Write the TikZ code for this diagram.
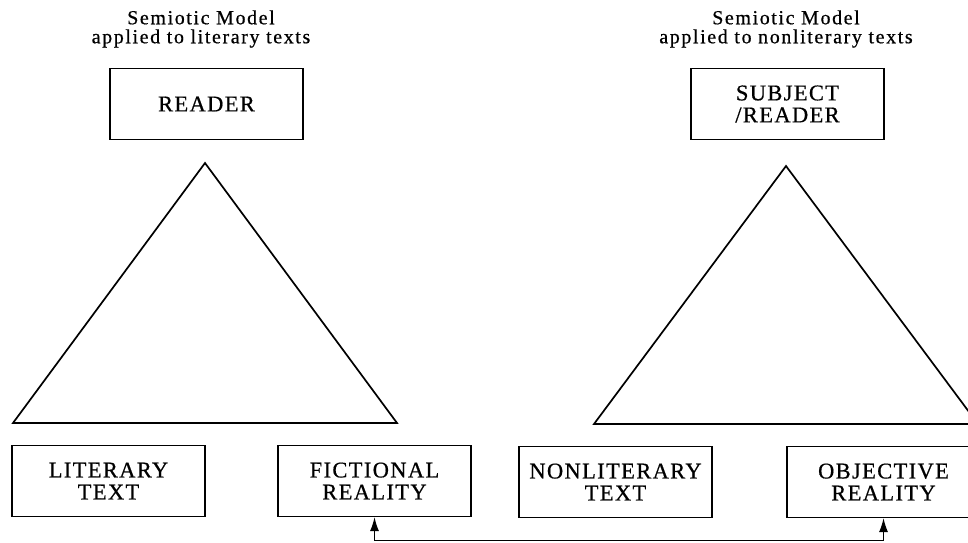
\documentclass[tikz,border=0pt]{standalone}
\usepackage{fontspec}
\setmainfont{Liberation Serif}
\newfontfamily\titlefont[LetterSpace=8,FakeBold=0.6]{Liberation Serif}
\newfontfamily\boxfont[LetterSpace=6,FakeBold=0.6]{Liberation Serif}
\usetikzlibrary{arrows.meta}

\begin{document}
\begin{tikzpicture}[x=1pt,y=-1pt]
            \tikzstyle{box}=[draw, line width=1.2pt, inner sep=0pt, minimum width=193pt, minimum height=71pt, align=center, font=\boxfont\fontsize{22.5}{22}\selectfont]
            \tikzstyle{title}=[inner sep=0pt, align=center, font=\titlefont\fontsize{20}{19}\selectfont]
            \tikzstyle{tri}=[line width=1.7pt, line join=miter]
            \tikzstyle{link}=[line width=1.2pt, {Latex[length=14pt,width=9pt]}-{Latex[length=14pt,width=9pt]}]

            \useasboundingbox (0,0) rectangle (968,542);
            \clip (0,0) rectangle (968,542);

            % titles
            \node[title] (ltitle) at (201,29) {Semiotic Model\\applied to literary texts};
            \node[title] (rtitle) at (786,29) {Semiotic Model\\applied to nonliterary texts};

            % top boxes
            \node[box] (reader)  at (206.5,104) {READER};
            \node[box] (subject) at (787.5,104) {SUBJECT\\/READER};

            % triangles
            \coordinate (ltop)   at (205,163);
            \coordinate (lleft)  at (13,423);
            \coordinate (lright) at (397,423);
            \coordinate (rtop)   at (786,166);
            \coordinate (rleft)  at (594,424);
            \coordinate (rright) at (978,424);
            \draw[tri] (lleft) -- (ltop) -- (lright) -- cycle;
            \draw[tri] (rleft) -- (rtop) -- (rright) -- cycle;

            % bottom boxes
            \node[box] (littext) at (108.5,481) {LITERARY\\TEXT};
            \node[box] (fict)    at (374.5,481) {FICTIONAL\\REALITY};
            \node[box] (nonlit)  at (615.5,482) {NONLITERARY\\TEXT};
            \node[box] (obj)     at (883.5,482) {OBJECTIVE\\REALITY};

            \draw[link] (fict.south) -- ++(0,23) -| (obj.south);
\end{tikzpicture}
\end{document}
